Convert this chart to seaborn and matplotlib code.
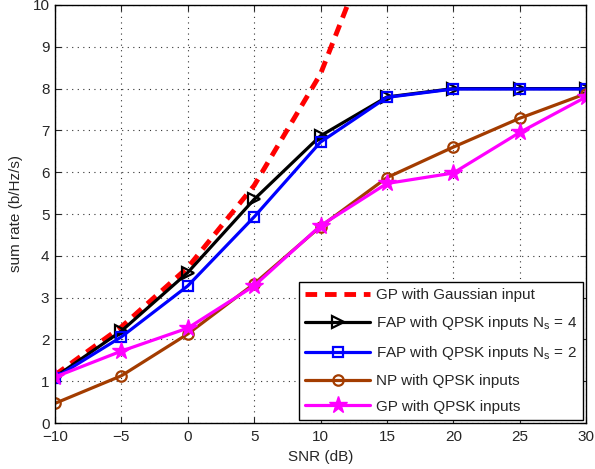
import pandas as pd
import numpy as np
import seaborn as sns
import matplotlib.pyplot as plt

sns.set_style("ticks")
plt.rcParams["font.family"] = ["Liberation Sans", "DejaVu Sans"]
plt.rcParams["mathtext.fontset"] = "custom"
plt.rcParams["mathtext.rm"] = "Liberation Sans"
plt.rcParams["mathtext.it"] = "Liberation Sans"

snr = [-10, -5, 0, 5, 10, 15, 20, 25, 30]
snr_gauss = [-10, -5, 0, 5, 10, 15]
gp_gauss = [1.15, 2.3, 3.72, 5.68, 8.35, 12.4]
fap_ns4 = [1.1, 2.2, 3.6, 5.35, 6.87, 7.8, 8.0, 8.0, 8.0]
fap_ns2 = [1.08, 2.06, 3.28, 4.93, 6.72, 7.79, 7.99, 7.99, 7.99]
np_qpsk = [0.47, 1.13, 2.13, 3.33, 4.7, 5.87, 6.6, 7.29, 7.88]
gp_qpsk = [1.1, 1.72, 2.27, 3.28, 4.72, 5.73, 5.98, 6.95, 7.8]

labels = ["GP with Gaussian input",
          r"FAP with QPSK inputs N$_\mathregular{s}$ = 4",
          r"FAP with QPSK inputs N$_\mathregular{s}$ = 2",
          "NP with QPSK inputs",
          "GP with QPSK inputs"]

brown = "#a33c00"

fig = plt.figure(figsize=(5.95, 4.69), dpi=100)
ax = fig.add_axes([55 / 595, 46 / 469, 531 / 595, 418 / 469])

sns.lineplot(x=snr_gauss, y=gp_gauss, ax=ax, color="red", lw=3.5,
             linestyle=(0, (2.4, 1.6)), label=labels[0])
sns.lineplot(x=snr, y=fap_ns4, ax=ax, color="black", lw=2.3, marker=">",
             markersize=9, markerfacecolor="none", markeredgecolor="black",
             markeredgewidth=1.6, label=labels[1])
sns.lineplot(x=snr, y=fap_ns2, ax=ax, color="#0000ff", lw=2.3, marker="s",
             markersize=6.5, markerfacecolor="none", markeredgecolor="#0000ff",
             markeredgewidth=1.6, label=labels[2])
sns.lineplot(x=snr, y=np_qpsk, ax=ax, color=brown, lw=2.3, marker="o",
             markersize=7.5, markerfacecolor="none", markeredgecolor=brown,
             markeredgewidth=1.6, label=labels[3])
sns.lineplot(x=snr, y=gp_qpsk, ax=ax, color="magenta", lw=2.3, marker="*",
             markersize=13, markerfacecolor="magenta", markeredgecolor="magenta",
             markeredgewidth=1, label=labels[4])

ax.set_xlim(-10, 30)
ax.set_ylim(0, 10)
ax.set_xticks(range(-10, 31, 5))
ax.set_yticks(range(0, 11))
ax.set_xticklabels(["\u221210", "\u22125", "0", "5", "10", "15", "20", "25", "30"])
ax.set_xlabel("SNR (dB)", fontsize=11, labelpad=4)
ax.set_ylabel("sum rate (b/Hz/s)", fontsize=11, labelpad=7)
ax.tick_params(direction="in", top=True, right=True, labelsize=11, length=4,
               width=0.8)
ax.tick_params(axis="x", pad=5)
ax.tick_params(axis="y", pad=4)
ax.grid(True, linestyle=(0, (1, 4)), color="#333333", lw=0.8)
for s in ax.spines.values():
    s.set_linewidth(1.0)
    s.set_color("black")

leg = ax.legend(loc="lower right", fontsize=11, frameon=True, fancybox=False,
                handlelength=4.2, borderaxespad=0.2, labelspacing=0.78,
                handletextpad=0.4, borderpad=0.4)
leg.get_frame().set_edgecolor("black")
leg.get_frame().set_linewidth(1.0)
leg.get_frame().set_alpha(1)

fig.savefig("out.png", dpi=100)
